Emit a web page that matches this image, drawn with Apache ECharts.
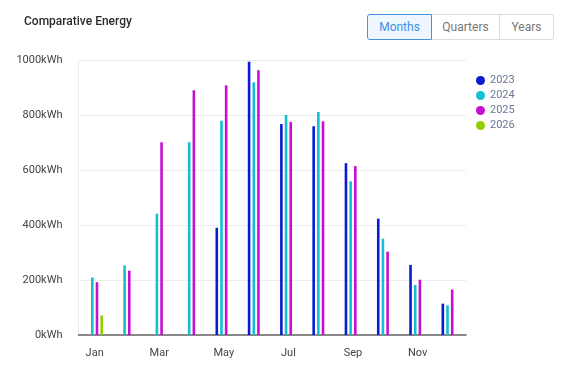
<!DOCTYPE html>
<html>
<head>
<meta charset="utf-8">
<script src="https://cdn.jsdelivr.net/npm/echarts@6/dist/echarts.min.js"></script>
<style>
  html, body { margin: 0; padding: 0; background: #fff; }
  #wrap { position: relative; width: 561px; height: 369px; font-family: Roboto, "Noto Sans", sans-serif; }
  #chart { position: absolute; left: 0; top: 0; width: 561px; height: 369px; }
  #btns { position: absolute; left: 367px; top: 14px; display: flex; height: 26px; }
  .btn { box-sizing: border-box; height: 26px; line-height: 24px; font-size: 12px; text-align: center;
         border: 1px solid #dcdcdc; color: #777; background: #fff; }
  .btn + .btn { border-left: none; }
  .b1 { width: 65px; border-color: #4a90e2; color: #3d8fe6; background: #eef6ff; border-radius: 3px 0 0 3px; }
  .b2 { width: 68px; }
  .b3 { width: 54px; border-radius: 0 3px 3px 0; }
</style>
</head>
<body>
<div id="wrap">
  <div id="chart"></div>
  <div id="btns"><div class="btn b1">Months</div><div class="btn b2">Quarters</div><div class="btn b3">Years</div></div>
</div>
<script>
const months = ['Jan','Feb','Mar','Apr','May','Jun','Jul','Aug','Sep','Oct','Nov','Dec'];
const yearNames = ['2023','2024','2025','2026'];
const v2023 = [null, null, null, null, 390, 994, 767, 759, 625, 423, 255, 114];
const v2024 = [209, 253, 441, 701, 779, 919, 800, 811, 559, 350, 182, 108];
const v2025 = [192, 234, 701, 890, 908, 963, 775, 777, 614, 303, 201, 165];
const v2026 = [71, null, null, null, null, null, null, null, null, null, null, null];
const colors = ['#0b1bd0', '#12bfd4', '#c70fcf', '#8fcf00'];
const yTicks = [0, 200, 400, 600, 800, 1000];

const seriesData = [v2023, v2024, v2025, v2026];
const chart = echarts.init(document.getElementById('chart'), null, { renderer: 'canvas' });
chart.setOption({
  animation: false,
  textStyle: { fontFamily: 'Roboto, "Noto Sans", sans-serif' },
  title: {
    text: 'Comparative Energy', left: 19, top: 11,
    textStyle: { fontSize: 12, fontWeight: 500, color: '#2b2b2b' }
  },
  legend: {
    orient: 'vertical', left: 476, top: 75, icon: 'circle',
    itemWidth: 9, itemHeight: 9, itemGap: 4, padding: 0,
    textStyle: { fontSize: 11, color: '#6a7897' },
    data: yearNames
  },
  grid: { left: 78.5, right: 95, top: 60, bottom: 34 },
  xAxis: {
    type: 'category', data: months,
    axisLine: { lineStyle: { color: '#666', width: 1.5 } },
    axisTick: { show: false },
    axisLabel: { interval: 1, fontSize: 11, color: '#444', margin: 13 }
  },
  yAxis: {
    type: 'value', min: 0, max: yTicks[yTicks.length - 1], interval: 200,
    axisLine: { show: true, lineStyle: { color: '#eeeeee' } },
    axisLabel: { formatter: v => v + 'kWh', fontSize: 11, color: '#444', margin: 16 },
    splitLine: { lineStyle: { color: '#ececec' } }
  },
  series: yearNames.map((n, i) => ({
    name: n, type: 'bar', data: seriesData[i],
    barWidth: 2.6, barGap: '80%',
    itemStyle: { color: colors[i] }
  }))
});
</script>
</body>
</html>
